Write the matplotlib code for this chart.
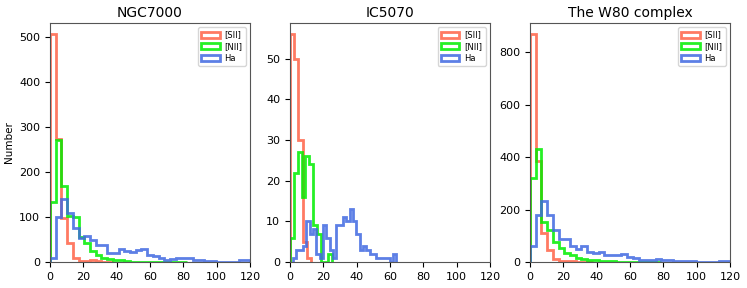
import numpy as np
import matplotlib
matplotlib.use("Agg")
import matplotlib.pyplot as plt

titles = ["NGC7000", "IC5070", "The W80 complex"]
labels = ["[SII]", "[NII]", "Ha"]
colors = ["#FF6347", "#00EE00", "#4169E1"]

# ---- NGC7000 ----
ngc_edges = np.linspace(0, 120, 36)
ngc_sii = [506, 274, 97, 43, 10, 3, 3, 4, 2, 1, 1]
ngc_nii = [134, 272, 169, 102, 100, 55, 43, 25, 16, 8, 6, 5, 4, 2, 1, 1, 1, 0, 0, 0, 1, 0, 0, 1]
ngc_ha = [8, 99, 140, 110, 75, 53, 57, 49, 38, 38, 21, 21, 29, 25, 23, 27, 28, 16,
          13, 10, 5, 6, 10, 8, 8, 4, 5, 3, 3, 1, 1, 1, 1, 4, 4]

# ---- IC5070 ----
ic_sii_edges = np.linspace(0, 12.5, 6)
ic_sii = [56, 50, 30, 5, 1]
ic_nii_edges = np.linspace(0, 25.3, 12)
ic_nii = [6, 22, 27, 16, 26, 24, 9, 7, 0, 0, 2]
ic_ha_edges = np.linspace(1.8, 63.8, 32)
ic_ha = [1, 3, 3, 4, 10, 7, 8, 2, 1, 9, 6, 3, 1, 9, 9, 11, 10, 13, 10, 7, 3, 4, 3,
         2, 2, 1, 1, 1, 1, 0, 2]

# ---- W80 ----
w80_edges = np.linspace(0, 120, 36)
w80_sii = [869, 385, 112, 46, 10, 3, 2, 2, 1, 1, 1]
w80_nii = [322, 430, 154, 124, 75, 55, 36, 25, 14, 10, 7, 6, 4, 2, 2, 1, 1, 1, 1, 0, 0, 0, 1]
w80_ha = [61, 178, 232, 180, 122, 86, 86, 62, 50, 61, 40, 34, 39, 27, 27, 25, 32, 18,
          15, 8, 6, 6, 13, 9, 9, 5, 5, 3, 3, 1, 1, 1, 1, 5, 5]

panels = [
    [(ngc_edges, ngc_sii), (ngc_edges, ngc_nii), (ngc_edges, ngc_ha)],
    [(ic_sii_edges, ic_sii), (ic_nii_edges, ic_nii), (ic_ha_edges, ic_ha)],
    [(w80_edges, w80_sii), (w80_edges, w80_nii), (w80_edges, w80_ha)],
]

fig = plt.figure(figsize=(7.47, 2.88), dpi=100)
lefts = [50 / 747, 290 / 747, 530 / 747]
w = 200 / 747
b = 1 - 262 / 288
h = (262 - 23) / 288

for i, (title, series) in enumerate(zip(titles, panels)):
    ax = fig.add_axes([lefts[i], b, w, h])
    for (edges, counts), lab, col in zip(series, labels, colors):
        n = len(counts)
        e = np.asarray(edges[: n + 1])
        ax.hist(e[:-1], bins=e, weights=counts, histtype="step", color=col,
                lw=2, alpha=0.85, label=lab)
    ax.set_xlim(0, 120)
    ax.set_xticks([0, 20, 40, 60, 80, 100, 120])
    ax.set_title(title, fontsize=10, pad=4)
    ax.tick_params(labelsize=8, length=3.5, width=0.8)
    for s in ax.spines.values():
        s.set_color("#555555")
    ax.legend(loc="upper right", fontsize=6, handlelength=2.2,
              borderpad=0.4, labelspacing=0.3, handletextpad=0.6)
    if i == 0:
        ax.set_ylabel("Number", fontsize=7.5)

fig.savefig("out.png", dpi=100)
